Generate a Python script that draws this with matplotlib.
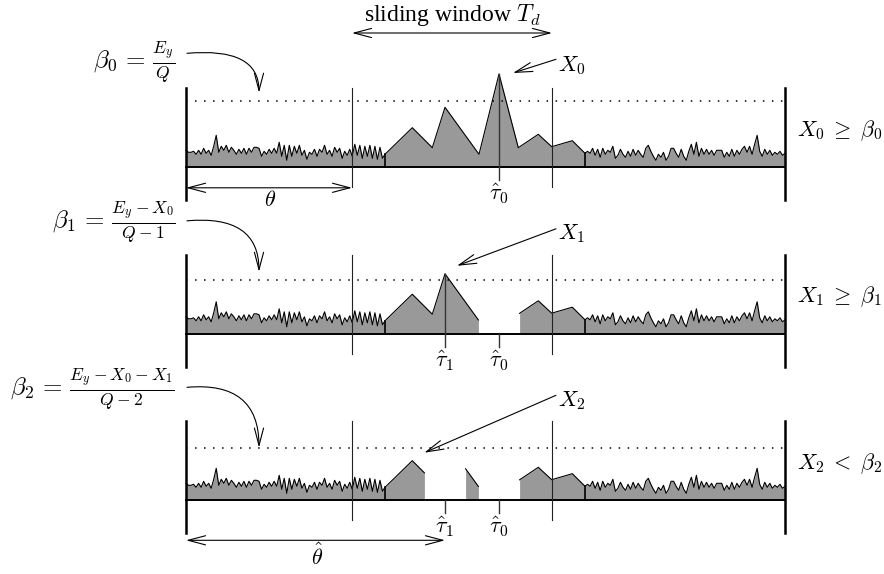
import numpy as np
import matplotlib.pyplot as plt
from matplotlib.patches import FancyArrowPatch

plt.rcParams['mathtext.fontset'] = 'cm'
plt.rcParams['font.family'] = ['Liberation Serif', 'DejaVu Serif']

# background noise, height above the baseline (left and right of the search region)
noise_left = [17, 15, 15, 16, 13, 17, 13, 19, 14, 17, 12, 21, 32, 15, 21, 17,
              22, 15, 20, 17, 13, 18, 14, 19, 13, 19, 15, 20, 20, 19, 11, 16,
              13, 18, 14, 19, 14, 25, 11, 22, 7, 22, 11, 21, 14, 22, 12, 17,
              8, 15, 13, 18, 11, 18, 15, 22, 13, 17, 11, 20, 15, 19, 9, 16,
              12, 18, 11, 23, 12, 22, 9, 21, 11, 22, 9, 21, 8, 20, 9, 13]
noise_right = [14, 16, 14, 19, 12, 18, 10, 19, 13, 17, 15, 21, 9, 12, 18, 13,
               10, 16, 11, 18, 12, 17, 13, 10, 19, 22, 16, 11, 7, 13, 10, 15,
               7, 11, 19, 19, 14, 10, 18, 11, 7, 16, 23, 13, 25, 11, 19, 13,
               18, 13, 17, 12, 17, 17, 17, 10, 15, 11, 18, 11, 17, 13, 18, 21,
               15, 21, 13, 23, 32, 16, 11, 18, 13, 17, 12, 15, 13, 16, 12, 14]

# energy inside the search region
peak_x = [385, 412.3, 432.3, 445, 479, 499, 518.3, 538.3, 551.7, 572.3, 585]
peak_h = [13, 39.6, 19.6, 60, 13, 93.3, 19.6, 33, 20.6, 26.6, 14]

# threshold beta_q at each step and the peaks already taken out
thresholds = [66.6, 54.0, 52.7]
removed = [[], [5], [5, 3]]
half_gap = 20.6

beta_labels = [r'$\beta_0\,=\,\frac{E_y}{Q}$',
               r'$\beta_1\,=\,\frac{E_y - X_0}{Q-1}$',
               r'$\beta_2\,=\,\frac{E_y - X_0 - X_1}{Q-2}$']
test_labels = [r'$X_0\;\geq\;\beta_0$', r'$X_1\;\geq\;\beta_1$', r'$X_2\;<\;\beta_2$']
x_labels = [r'$X_0$', r'$X_1$', r'$X_2$']
tau_labels = [r'$\hat{\tau}_0$', r'$\hat{\tau}_1$']

baselines = [167.3, 333.8, 500.3]
x_start, x_end = 186, 785
win_lo, win_hi = 352, 552
gray = '#999999'

fig = plt.figure(figsize=(8.84, 5.74), dpi=100)
ax = fig.add_axes([0, 0, 1, 1])
ax.set_xlim(0, 884)
ax.set_ylim(574, 0)
ax.axis('off')

prof_x = np.concatenate([np.linspace(x_start, peak_x[0], len(noise_left)),
                         peak_x[1:-1],
                         np.linspace(peak_x[-1], x_end, len(noise_right))])
prof_h = np.concatenate([noise_left, peak_h[1:-1], noise_right])

order = list(np.argsort(peak_h)[::-1])


def arrow(p0, p1, style='->', conn='arc3,rad=0'):
    a = FancyArrowPatch(p0, p1, arrowstyle=style + ',head_length=1.25,head_width=0.33',
                        mutation_scale=10, connectionstyle=conn, lw=0.8,
                        color='black', shrinkA=0, shrinkB=0)
    ax.add_patch(a)


for k, base in enumerate(baselines):
    gaps = sorted((peak_x[i] - half_gap, peak_x[i] + half_gap) for i in removed[k])
    edges = [x_start] + [e for g in gaps for e in g] + [x_end]
    for lo, hi in zip(edges[::2], edges[1::2]):
        inside = (prof_x > lo) & (prof_x < hi)
        xs = np.concatenate([[lo], prof_x[inside], [hi]])
        hs = np.interp(xs, prof_x, prof_h)
        ax.fill_between(xs, base, base - hs, color=gray, lw=0)
        ax.plot(xs, base - hs, color='black', lw=0.8)

    # joins between noise and search region
    for xj, hj in [(peak_x[0], peak_h[0]), (peak_x[-1], peak_h[-1])]:
        ax.plot([xj, xj], [base, base - hj], color='black', lw=1.2)

    ax.plot([x_start, x_end], [base, base], color='black', lw=1.4)
    ax.plot([x_start, x_end], [base - thresholds[k]] * 2, color='black',
            lw=1.1, ls=(0, (1, 4.9)))
    for xv in (x_start, x_end):
        ax.plot([xv, xv], [base - 79.3, base + 33], color='black', lw=1.8)
    for xv in (win_lo, win_hi):
        ax.plot([xv, xv], [base - 79.3, base + 20], color='#222222', lw=0.8)

    # estimated positions of the peaks found so far
    for j, i in enumerate(removed[k]):
        ax.plot([peak_x[i], peak_x[i]], [base, base + 13], color='#333333', lw=1.0)
        ax.text(peak_x[i], base + 27, tau_labels[j], ha='center', va='center', fontsize=16)
    cur = order[k]
    if peak_h[cur] >= thresholds[k]:
        ax.plot([peak_x[cur], peak_x[cur]], [base - peak_h[cur], base + 13],
                color='#333333', lw=1.0)
        ax.text(peak_x[cur], base + 27, tau_labels[k], ha='center', va='center', fontsize=16)

    # current maximum
    ax.text(558, base - 102 if k == 0 else base - 100, x_labels[k],
            ha='left', va='center', fontsize=16)
    lab_y = base - 108 if k == 0 else base - 105
    arrow((556, lab_y), (peak_x[cur] + 14 if k == 0 else peak_x[cur] + 12,
                         base - peak_h[cur] - 1 if k == 0 else base - peak_h[cur] - 8))

    ax.text(175, base - 105 if k == 0 else base - 111, beta_labels[k],
            ha='right', va='center', fontsize=18)
    y0 = base - 114 if k == 0 else base - 113
    arrow((187, y0), (259, base - thresholds[k] - 8 if k < 2 else base - thresholds[k]),
          conn='angle3,angleA=5,angleB=90')

    ax.text(797, base - 37, test_labels[k], ha='left', va='center', fontsize=16)

# sliding window
arrow((win_lo, 33), (win_hi, 33), style='<->')
ax.text(452, 15, r'sliding window $T_d$', ha='center', va='center', fontsize=17)

# theta and its estimate
arrow((x_start, baselines[0] + 20.5), (win_lo, baselines[0] + 20.5), style='<->')
ax.text(270, 201, r'$\theta$', ha='center', va='center', fontsize=16)
arrow((x_start, baselines[2] + 40), (peak_x[order[1]], baselines[2] + 40), style='<->')
ax.text(317, 557, r'$\hat{\theta}$', ha='center', va='center', fontsize=16)

fig.savefig('out.png', dpi=100)
